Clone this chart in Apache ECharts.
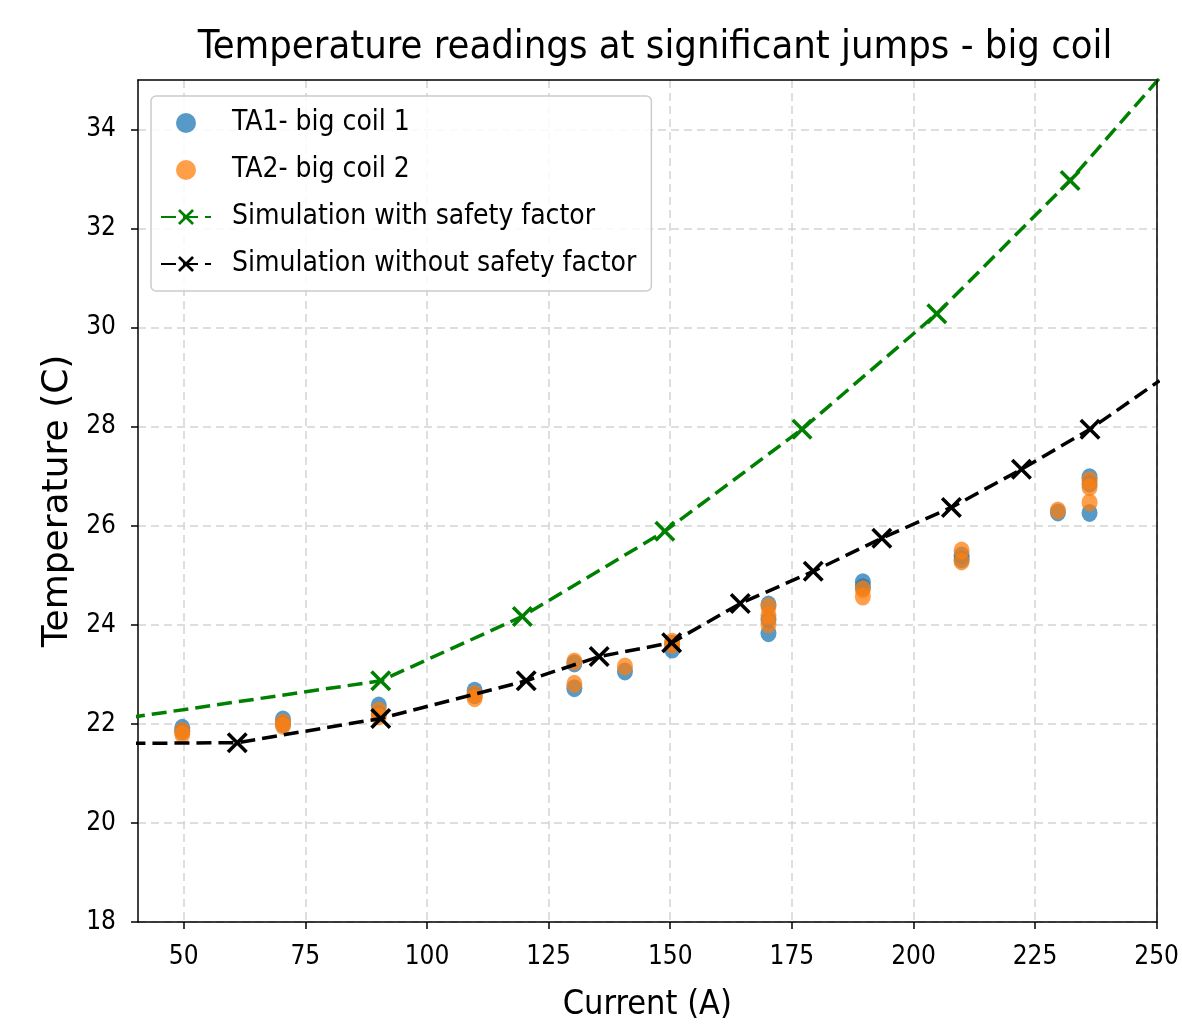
<!DOCTYPE html>
<html>
<head>
<meta charset="utf-8">
<script src="https://cdn.jsdelivr.net/npm/echarts@6/dist/echarts.min.js"></script>
<style>
  html, body { margin: 0; padding: 0; background: #fff; }
  #chart { width: 1182px; height: 1028px; }
</style>
</head>
<body>
<div id="chart"></div>
<script>
// tick labels
var xTicks = [50, 75, 100, 125, 150, 175, 200, 225, 250];
var yTicks = [18, 20, 22, 24, 26, 28, 30, 32, 34];

var ta1Current = [49.7, 49.7, 70.4, 70.4, 90.1, 90.1, 109.8, 109.8, 130.3, 130.3, 140.7, 150.4, 150.4,
                  170.2, 170.2, 170.2, 189.6, 189.6, 209.9, 209.9, 229.7, 236.2, 236.2, 236.2];
var ta1Temp    = [21.92, 21.85, 22.09, 22.0, 22.37, 22.2, 22.67, 22.58, 23.22, 22.72, 23.06, 23.62, 23.5,
                  24.41, 24.11, 23.83, 24.86, 24.76, 25.40, 25.32, 26.27, 26.98, 26.85, 26.26];
var ta2Current = [49.7, 49.7, 70.4, 70.4, 90.1, 90.1, 109.8, 109.8, 130.3, 130.3, 140.7, 150.4, 150.4,
                  170.2, 170.2, 170.2, 189.6, 189.6, 209.9, 209.9, 229.7, 236.2, 236.2, 236.2];
var ta2Temp    = [21.86, 21.79, 22.03, 21.96, 22.27, 22.15, 22.6, 22.52, 23.26, 22.81, 23.16, 23.66, 23.6,
                  24.37, 24.19, 24.01, 24.72, 24.57, 25.50, 25.28, 26.31, 26.92, 26.78, 26.47];

// simulations (first / last points sit outside the visible range)
var simSafeCurrent = [30, 90.5, 119.6, 148.9, 177.1, 204.8, 232.2, 260];
var simSafeTemp    = [22.0, 22.87, 24.17, 25.89, 27.95, 30.28, 32.97, 36.1];
var simCurrent = [30, 61.0, 90.5, 120.4, 135.4, 150.3, 164.4, 179.4, 193.5, 207.8, 222.2, 236.3, 250.6];
var simTemp    = [21.6, 21.62, 22.11, 22.87, 23.36, 23.64, 24.43, 25.08, 25.75, 26.37, 27.14, 27.95, 28.93];

var xMin = 40.6, xMax = 250, yMin = 18, yMax = 35;
var FONT = '"DejaVu Sans Condensed", "DejaVu Sans", sans-serif';
var X_MARK = 'path://M0,1.2 L1.2,0 L5,3.8 L8.8,0 L10,1.2 L6.2,5 L10,8.8 L8.8,10 L5,6.2 L1.2,10 L0,8.8 L3.8,5 Z';

function pairs(xs, ys) {
  return xs.map(function (x, i) { return [x, ys[i]]; });
}
function linePoints(xs, ys) {
  return xs.map(function (x, i) {
    var item = { value: [x, ys[i]] };
    if (x < xMin || x > xMax) item.symbol = 'none';
    return item;
  });
}

var chart = echarts.init(document.getElementById('chart'));

var frame = { show: true, lineStyle: { color: '#000', width: 1.5 } };

var option = {
  animation: false,
  textStyle: { fontFamily: FONT, color: '#000' },
  title: {
    text: 'Temperature readings at significant jumps - big coil',
    left: 650,
    top: 23,
    textAlign: 'center',
    textStyle: { fontFamily: FONT, fontSize: 39.6, fontWeight: 'normal', color: '#000' }
  },
  grid: {
    left: 138, right: 18, top: 80, bottom: 106,
    containLabel: false
  },
  legend: {
    orient: 'vertical',
    left: 151,
    top: 96,
    padding: [13, 15, 13, 9],
    itemWidth: 50,
    itemHeight: 20,
    itemGap: 19,
    backgroundColor: 'rgba(255,255,255,0.85)',
    borderColor: '#cccccc',
    borderWidth: 1.5,
    borderRadius: 5,
    textStyle: { fontFamily: FONT, fontSize: 28, color: '#000', padding: [0, 0, 0, 16] },
    data: [
      { name: 'TA1- big coil 1', icon: 'circle' },
      { name: 'TA2- big coil 2', icon: 'circle' },
      { name: 'Simulation with safety factor' },
      { name: 'Simulation without safety factor' }
    ]
  },
  xAxis: [
    {
      type: 'value',
      min: xMin,
      max: xMax,
      name: 'Current (A)',
      nameLocation: 'middle',
      nameGap: 66,
      nameTextStyle: { fontFamily: FONT, fontSize: 34, color: '#000' },
      axisLine: frame,
      axisTick: { show: true, length: 7, lineStyle: { color: '#000', width: 1.5 }, customValues: xTicks },
      axisLabel: { fontFamily: FONT, fontSize: 26, color: '#000', margin: 22, customValues: xTicks },
      splitLine: { show: true, lineStyle: { color: '#d4d4d4', width: 1.5, type: [8, 5] } }
    },
    {
      // top frame line
      type: 'value', position: 'top', min: xMin, max: xMax,
      axisLine: frame, axisTick: { show: false }, axisLabel: { show: false }, splitLine: { show: false }
    }
  ],
  yAxis: [
    {
      type: 'value',
      min: yMin,
      max: yMax,
      name: 'Temperature (C)',
      nameLocation: 'middle',
      nameGap: 60,
      nameTextStyle: { fontFamily: '"DejaVu Sans", sans-serif', fontSize: 36, color: '#000' },
      axisLine: frame,
      axisTick: { show: true, length: 7, lineStyle: { color: '#000', width: 1.5 }, customValues: yTicks },
      axisLabel: { fontFamily: FONT, fontSize: 26, color: '#000', margin: 22, customValues: yTicks },
      splitLine: { show: true, lineStyle: { color: '#d4d4d4', width: 1.5, type: [8, 5] } }
    },
    {
      // right frame line
      type: 'value', position: 'right', min: yMin, max: yMax, z: 5,
      axisLine: frame, axisTick: { show: false }, axisLabel: { show: false }, splitLine: { show: false }
    }
  ],
  series: [
    {
      name: 'TA1- big coil 1',
      type: 'scatter',
      symbol: 'circle',
      symbolSize: [16, 18],
      itemStyle: { color: '#1f77b4', opacity: 0.75 },
      data: pairs(ta1Current, ta1Temp)
    },
    {
      name: 'TA2- big coil 2',
      type: 'scatter',
      symbol: 'circle',
      symbolSize: [16, 18],
      itemStyle: { color: '#ff7f0e', opacity: 0.75 },
      data: pairs(ta2Current, ta2Temp)
    },
    {
      name: 'Simulation with safety factor',
      type: 'line',
      clip: true,
      symbol: X_MARK,
      symbolSize: 21,
      showAllSymbol: true,
      itemStyle: { color: '#008000' },
      lineStyle: { color: '#008000', width: 3.5, type: [15, 7] },
      data: linePoints(simSafeCurrent, simSafeTemp)
    },
    {
      name: 'Simulation without safety factor',
      type: 'line',
      clip: true,
      symbol: X_MARK,
      symbolSize: 21,
      showAllSymbol: true,
      itemStyle: { color: '#000000' },
      lineStyle: { color: '#000000', width: 3.5, type: [15, 7] },
      data: linePoints(simCurrent, simTemp)
    }
  ]
};

chart.setOption(option);
</script>
</body>
</html>
